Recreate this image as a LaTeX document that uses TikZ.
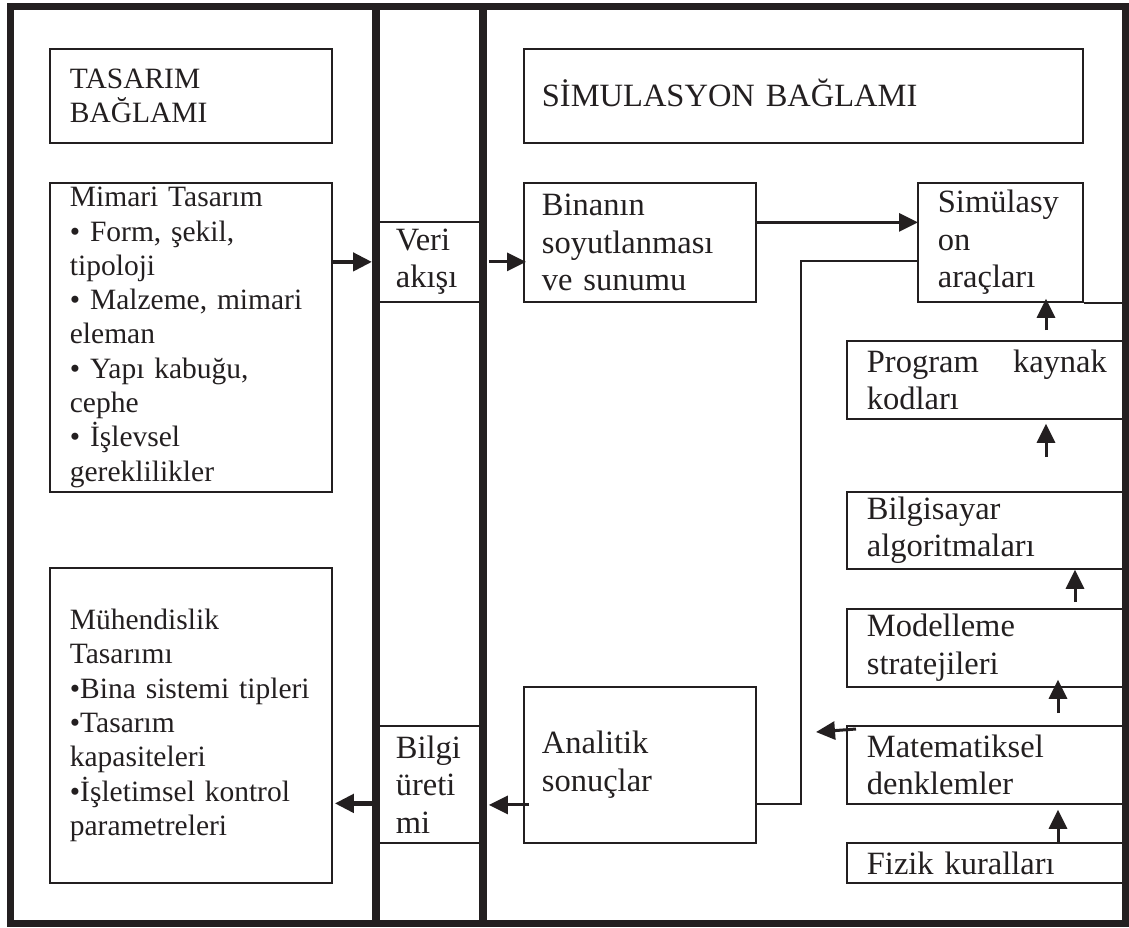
\documentclass[tikz,border=0pt]{standalone}
\usepackage{fontspec}
\setmainfont{Liberation Serif}
\usetikzlibrary{arrows.meta}
\definecolor{ink}{RGB}{35,31,32}

\begin{document}
\begin{tikzpicture}[x=1pt,y=-1pt,
  kutu/.style={draw=ink,line width=1.8pt,anchor=north west,align=left,text=ink,inner ysep=0pt,inner xsep=20pt},
  sol/.style={kutu,font=\fontsize{29.5}{34.3}\selectfont,minimum width=282pt,text width=242pt},
  sag/.style={kutu,font=\fontsize{32.5}{37.5}\selectfont},
  yigin/.style={sag,minimum width=280pt,text width=240pt},
  ok/.style={draw=ink,line width=3pt,-{Triangle[length=19pt,width=18pt]}}]
\useasboundingbox (0,0) rectangle (1129,927);
% tasarim tarafi
\node[sol,minimum height=94pt] (tasarim) at (49,48) {TASARIM\\BAĞLAMI};
\node[sol,minimum height=309pt] (mimari) at (49,182) {Mimari Tasarım\\• Form, şekil,\\tipoloji\\• Malzeme, mimari\\eleman\\• Yapı kabuğu,\\cephe\\• İşlevsel\\gereklilikler};
\node[sol,minimum height=315pt] (muhendislik) at (49,567) {Mühendislik\\Tasarımı\\•Bina sistemi tipleri\\•Tasarım\\kapasiteleri\\•İşletimsel kontrol\\parametreleri};
% orta sutun
\node[sag,minimum width=107pt,minimum height=80pt,text width=69pt,inner xsep=19pt] (veri) at (376,221) {Veri\\akışı};
\node[sag,minimum width=107pt,minimum height=117pt,text width=69pt,inner xsep=19pt] (bilgi) at (376,725) {Bilgi\\üreti\\mi};
% simulasyon tarafi
\node[sag,minimum width=559pt,minimum height=94pt,text width=523pt,inner xsep=18pt,text height=22pt,text depth=0pt] (simbag) at (523,48) {SİMULASYON BAĞLAMI};
\node[sag,minimum width=232pt,minimum height=119pt,text width=196pt,inner xsep=18pt] (binanin) at (523,182) {Binanın\\soyutlanması\\ve sunumu};
\node[sag,minimum width=165pt,minimum height=119pt,text width=125pt] (arac) at (917,182) {Simülasy\\on\\araçları};
\node[sag,minimum width=232pt,minimum height=156pt,text width=196pt,inner xsep=18pt] (analitik) at (523,686) {Analitik\\sonuçlar};
\node[yigin,minimum height=78pt] (program) at (846,340) {Program\hfill kaynak\\kodları};
\node[yigin,minimum height=77pt] (bilgisayar) at (846,491) {Bilgisayar\\algoritmaları};
\node[yigin,minimum height=78pt] (modelleme) at (846,608) {Modelleme\\stratejileri};
\node[yigin,minimum height=78pt] (matematik) at (846,725) {Matematiksel\\denklemler};
\node[yigin,minimum height=40pt] (fizik) at (846,842) {Fizik kuralları};
\coordinate (kol) at (801,261);
\coordinate (ucu) at (816,732);
\coordinate (sagkenar) at (1125.5,0);

% baglantilar
\draw[ok,line width=4.5pt,shorten >=4pt] (veri.west -| mimari.east) -- (veri.west);
\draw[ok,shorten <=4pt,shorten >=-3pt] (veri.east) -- (veri.east -| binanin.west);
\draw[ok,shorten >=-1pt] ([yshift=20pt]binanin.east) -- ([yshift=20pt]arac.west);
\draw[ink,line width=2.5pt] ([yshift=-39pt]analitik.east) -| (kol) -- (kol -| arac.west);
\draw[ink,line width=1.8pt] (arac.south east) -- (arac.south east -| sagkenar);
\foreach \alt/\ust/\x/\a/\b in {program/arac/1046/10pt/-4pt, bilgisayar/program/1046/34pt/4pt,
    modelleme/bilgisayar/1075/6pt/0pt, matematik/modelleme/1058/12pt/-8pt, fizik/matematik/1058/0pt/5pt}
  \draw[ok,shorten <=\a,shorten >=\b] (\alt.north -| \x,0) -- (\ust.south -| \x,0);
\draw[ok] ([shift={(10pt,-4pt)}]matematik.north west) -- (ucu);
\draw[ok,shorten <=-6pt,shorten >=4pt] ([yshift=-40pt]analitik.west) -- ([yshift=-40pt]analitik.west -| bilgi.east);
\draw[ok,line width=4.5pt,shorten <=4pt,shorten >=2pt] ([yshift=-19pt]bilgi.west) -- ([yshift=-19pt]bilgi.west -| muhendislik.east);

% cerceve
\foreach \x in {376,483} \draw[ink,line width=8pt] (\x,6) -- (\x,923.5);
\draw[ink,line width=7pt] (10,6) rectangle (1125.5,923.5);
\end{tikzpicture}
\end{document}
